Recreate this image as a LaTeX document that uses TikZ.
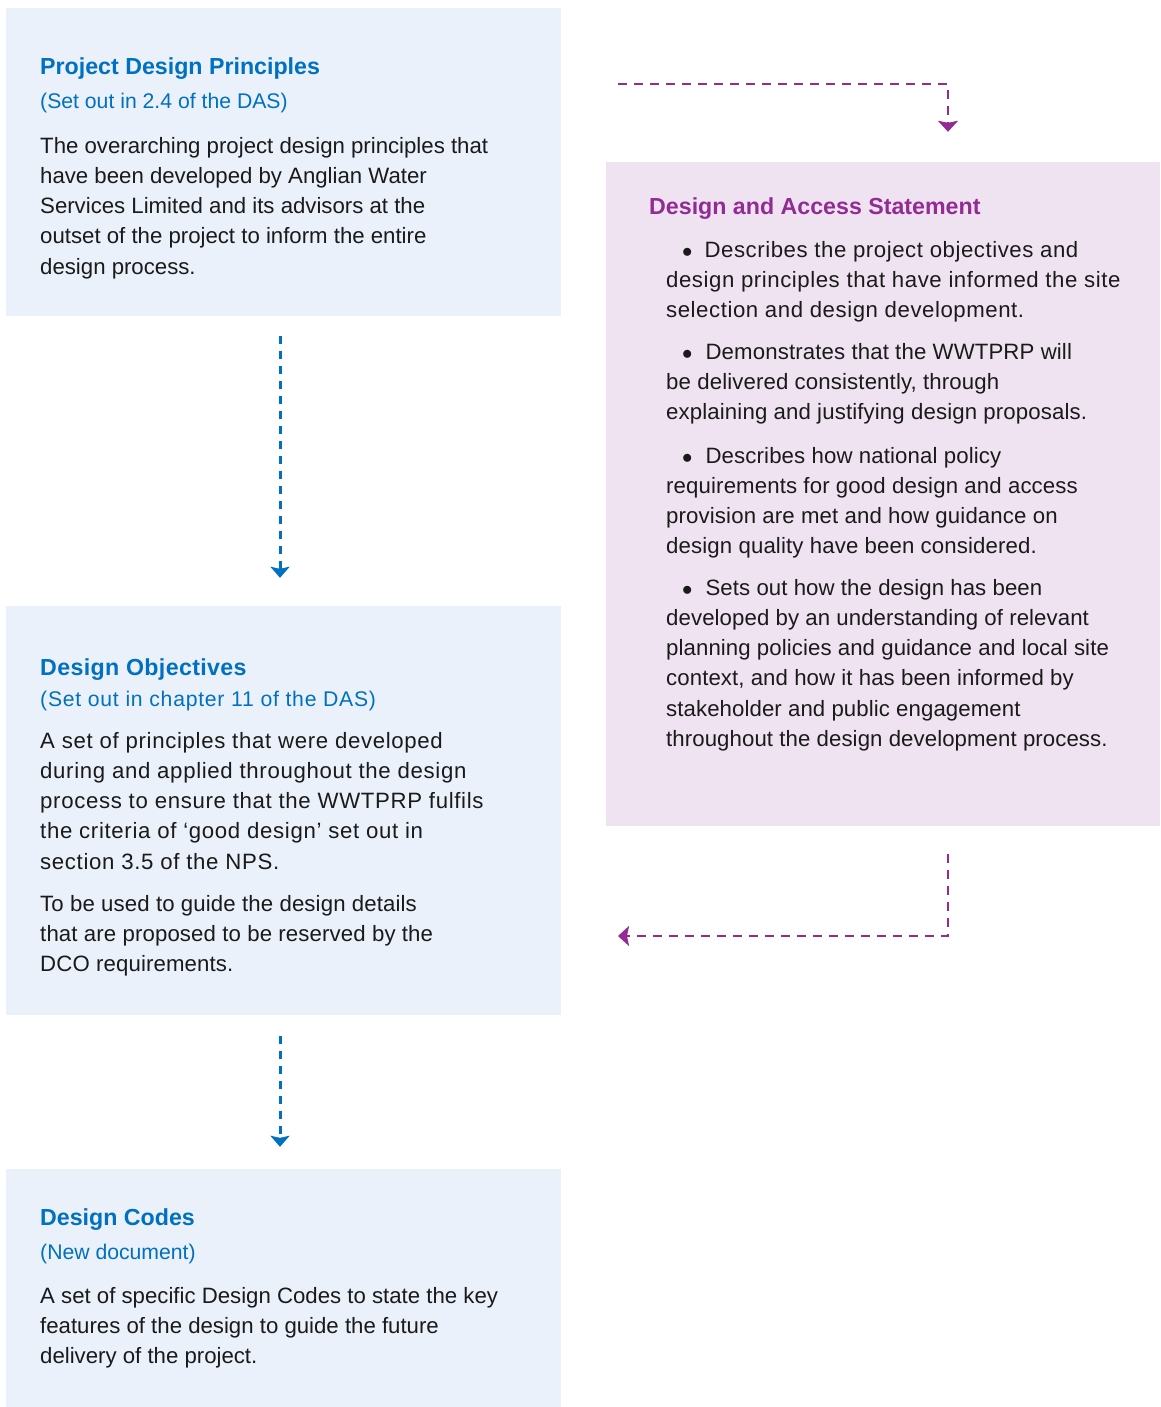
\documentclass[tikz,border=0pt]{standalone}
\usepackage{fontspec}
\setmainfont{Liberation Sans}
\usetikzlibrary{arrows.meta}
\definecolor{awblue}{HTML}{0070C0}
\definecolor{awpaleblue}{HTML}{EAF1FA}
\definecolor{awpurple}{HTML}{922B94}
\definecolor{awpalepurple}{HTML}{EFE3F1}
\definecolor{awtext}{HTML}{1A1A1A}
\begin{document}
\begin{tikzpicture}[
    panel/.style={inner sep=0pt, minimum width=555pt},
    headtext/.style={anchor=base west, inner sep=0pt, font=\fontsize{23.2}{30}\selectfont\bfseries},
    subtext/.style={anchor=base west, inner sep=0pt, text=awblue, font=\fontsize{21.2}{30}\selectfont},
    bodytext/.style={anchor=base west, inner sep=0pt, align=left, text=awtext, font=\fontsize{22.2}{30.3}\selectfont},
    widetext/.style={bodytext, font=\fontsize{22.2}{30.3}\selectfont\addfontfeature{LetterSpace=#1}},
    bluelink/.style={draw=awblue, line width=3pt, dash pattern=on 8pt off 7pt, -{Stealth[length=11pt,width=19pt,inset=2pt]}},
    purplelink/.style={draw=awpurple, line width=2.5pt, dash pattern=on 9pt off 7pt, -{Stealth[length=11pt,width=20pt,inset=2pt]}}
]
    \useasboundingbox (0pt,0pt) rectangle (1160pt,-1407pt);
    % panels
    \node[panel, fill=awpaleblue, minimum height=308pt] (pdp) at (283.5pt,-162pt) {};
    \node[panel, fill=awpaleblue, minimum height=409pt] (obj) at (283.5pt,-810.5pt) {};
    \node[panel, fill=awpaleblue, minimum height=238pt] (codes) at (283.5pt,-1288pt) {};
    \node[panel, fill=awpalepurple, minimum width=554pt, minimum height=664pt] (das) at (883pt,-494pt) {};
    % project design principles (body placed at its last baseline)
    \node[headtext, text=awblue] (pdphead) at (40pt,-75pt) {Project Design Principles};
    \node[subtext] (pdpsub) at (40pt,-109pt) {(Set out in 2.4 of the DAS)};
    \node[bodytext] (pdpbody) at (40pt,-274.2pt) {The overarching project design principles that\\
        have been developed by Anglian Water\\
        Services Limited and its advisors at the\\
        outset of the project to inform the entire\\
        design process.};
    % design objectives
    \node[headtext, text=awblue] (objhead) at (40pt,-675pt) {\addfontfeature{LetterSpace=1.5}Design Objectives};
    \node[subtext] (objsub) at (40pt,-706pt) {\addfontfeature{LetterSpace=3.5}(Set out in chapter 11 of the DAS)};
    \node[widetext=3] (objbody) at (40pt,-869.2pt) {A set of principles that were developed\\
        during and applied throughout the design\\
        process to ensure that the WWTPRP fulfils\\
        the criteria of ‘good design’ set out in\\
        section 3.5 of the NPS.};
    \node[widetext=0.6] (objnote) at (40pt,-971.6pt) {To be used to guide the design details\\
        that are proposed to be reserved by the\\
        DCO requirements.};
    % design codes
    \node[headtext, text=awblue] (codeshead) at (40pt,-1225pt) {Design Codes};
    \node[subtext] (codessub) at (40pt,-1259pt) {(New document)};
    \node[bodytext] (codesbody) at (40pt,-1363.6pt) {A set of specific Design Codes to state the key\\
        features of the design to guide the future\\
        delivery of the project.};
    % design and access statement
    \node[headtext, text=awpurple] (dashead) at (649pt,-214pt) {Design and Access Statement};
    \node[widetext=2.5] (dasone) at (666pt,-317.6pt) {\hspace*{16pt}$\bullet$\hspace{12pt}Describes the project objectives and\\
        design principles that have informed the site\\
        selection and design development.};
    \node[widetext=0.6] (dastwo) at (666pt,-419.6pt) {\hspace*{16pt}$\bullet$\hspace{13pt}Demonstrates that the WWTPRP will\\
        be delivered consistently, through\\
        explaining and justifying design proposals.};
    \node[widetext=0.6] (dasthree) at (666pt,-553.9pt) {\hspace*{16pt}$\bullet$\hspace{13pt}Describes how national policy\\
        requirements for good design and access\\
        provision are met and how guidance on\\
        design quality have been considered.};
    \node[widetext=0.4] (dasfour) at (666pt,-746.5pt) {\hspace*{16pt}$\bullet$\hspace{13pt}Sets out how the design has been\\
        developed by an understanding of relevant\\
        planning policies and guidance and local site\\
        context, and how it has been informed by\\
        stakeholder and public engagement\\
        throughout the design development process.};
    % links
    \draw[bluelink] ([xshift=-3.5pt,yshift=-20pt]pdp.south) -- ([xshift=-3.5pt,yshift=28pt]obj.north);
    \draw[bluelink] ([xshift=-3.5pt,yshift=-21pt]obj.south) -- ([xshift=-3.5pt,yshift=22pt]codes.north);
    \coordinate (dasfrom) at (618pt,-84pt);
    \coordinate (dasback) at (618pt,-936pt);
    \draw[purplelink] (dasfrom) -| ([xshift=65pt,yshift=30pt]das.north);
    \draw[purplelink] ([xshift=65pt,yshift=-28pt]das.south) |- (dasback);
\end{tikzpicture}
\end{document}
